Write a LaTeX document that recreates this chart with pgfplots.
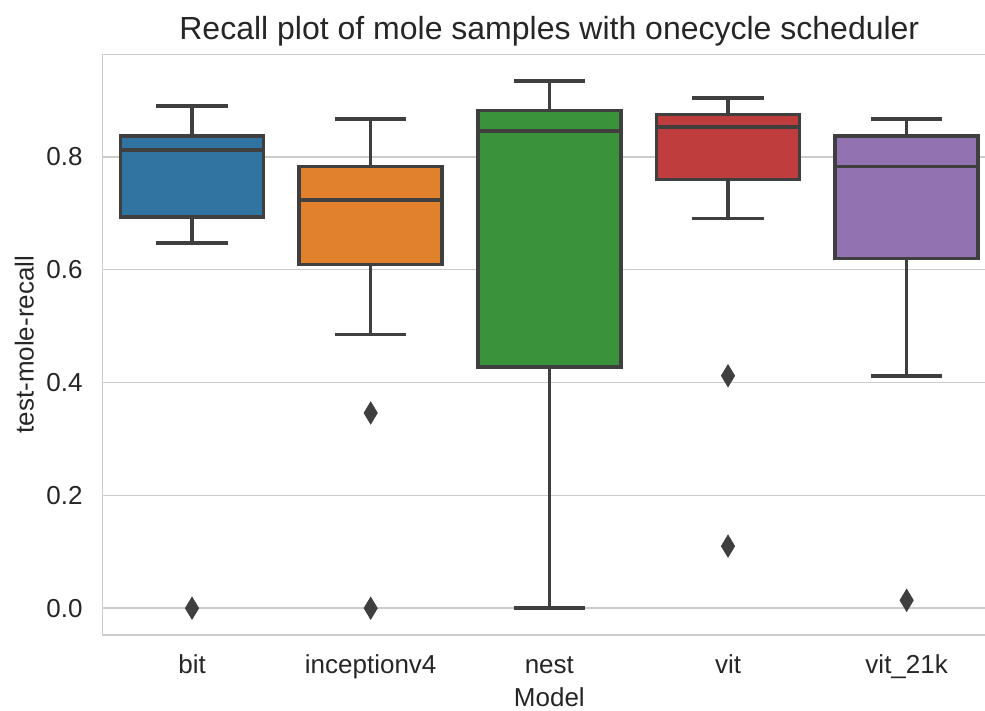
\documentclass[border=0pt]{standalone}
\usepackage{fontspec}
\setmainfont{Liberation Sans}
\usepackage{pgfplots}
\pgfplotsset{compat=1.18}
\usepgfplotslibrary{statistics}
\definecolor{cblue}{RGB}{50,116,161}
\definecolor{corange}{RGB}{225,129,44}
\definecolor{cgreen}{RGB}{58,146,58}
\definecolor{cred}{RGB}{192,61,62}
\definecolor{cpurple}{RGB}{147,114,178}
\definecolor{boxline}{RGB}{63,63,63}
\definecolor{gridgray}{RGB}{204,204,204}
\definecolor{textgray}{RGB}{38,38,38}
\begin{document}
\begin{tikzpicture}
\begin{axis}[name=ax, scale only axis, width=446.65pt, height=290pt,
  xmin=-0.5, xmax=4.5, ymin=-0.047, ymax=0.981,
  xtick={0,1,2,3,4}, xticklabels={bit,inceptionv4,nest,vit,vit\_21k},
  ytick={0,0.2,0.4,0.6,0.8},
  /pgf/number format/assume math mode=true,
  yticklabel style={/pgf/number format/fixed, /pgf/number format/precision=1,
    /pgf/number format/fixed zerofill, anchor=east, inner sep=0pt, xshift=-9.85pt},
  xticklabel style={anchor=base, inner sep=0pt, yshift=-19.15pt},
  major tick length=0pt,
  tick label style={font=\fontsize{13}{15}\selectfont, text=textgray},
  xlabel={Model}, ylabel={test-mole-recall},
  every axis x label/.style={at={(axis description cs:0.5,0)}, anchor=base,
    inner sep=0pt, yshift=-36pt, font=\fontsize{13}{15}\selectfont, text=textgray},
  every axis y label/.style={at={(axis description cs:-0.0772,0.5)}, rotate=90,
    anchor=base, inner sep=0pt, font=\fontsize{13}{15}\selectfont, text=textgray},
  title={Recall plot of mole samples with onecycle scheduler},
  every axis title/.style={at={(axis description cs:0.5,1)}, anchor=base,
    inner sep=0pt, yshift=7.7pt, font=\fontsize{16}{19}\selectfont, text=textgray},
  ymajorgrids, grid style={draw=gridgray, line width=0.8pt},
  axis line style={draw=gridgray, line width=0.8pt},
  boxplot/draw direction=y,
  mybox/.style={draw=boxline, line width=1.8pt, line join=miter,
    mark=diamond*, mark size=5.5pt,
    mark options={fill=boxline, draw=boxline, line width=0.4pt, xscale=0.8}},
]
\addplot[mybox, fill=cblue, boxplot prepared={draw position=0,
  lower whisker=0.647, lower quartile=0.693, median=0.812,
  upper quartile=0.837, upper whisker=0.890, box extend=0.8, whisker extend=0.4}]
  table[row sep=\\, y index=0] {y\\ 0.0\\};
\addplot[mybox, fill=corange, boxplot prepared={draw position=1,
  lower whisker=0.485, lower quartile=0.609, median=0.724,
  upper quartile=0.783, upper whisker=0.867, box extend=0.8, whisker extend=0.4}]
  table[row sep=\\, y index=0] {y\\ 0.346\\ 0.0\\};
\addplot[mybox, fill=cgreen, boxplot prepared={draw position=2,
  lower whisker=0.0, lower quartile=0.428, median=0.846,
  upper quartile=0.882, upper whisker=0.934, box extend=0.8, whisker extend=0.4}]
  coordinates {};
\addplot[mybox, fill=cred, boxplot prepared={draw position=3,
  lower whisker=0.691, lower quartile=0.760, median=0.853,
  upper quartile=0.875, upper whisker=0.904, box extend=0.8, whisker extend=0.4}]
  table[row sep=\\, y index=0] {y\\ 0.412\\ 0.110\\};
\addplot[mybox, fill=cpurple, boxplot prepared={draw position=4,
  lower whisker=0.412, lower quartile=0.620, median=0.783,
  upper quartile=0.837, upper whisker=0.867, box extend=0.8, whisker extend=0.4}]
  table[row sep=\\, y index=0] {y\\ 0.014\\};
\end{axis}
\pgfresetboundingbox
\path[use as bounding box] ([xshift=-51.35pt,yshift=-37.65pt]ax.south west)
  rectangle ([xshift=-5.5pt,yshift=27.35pt]ax.north east);
\end{tikzpicture}
\end{document}
